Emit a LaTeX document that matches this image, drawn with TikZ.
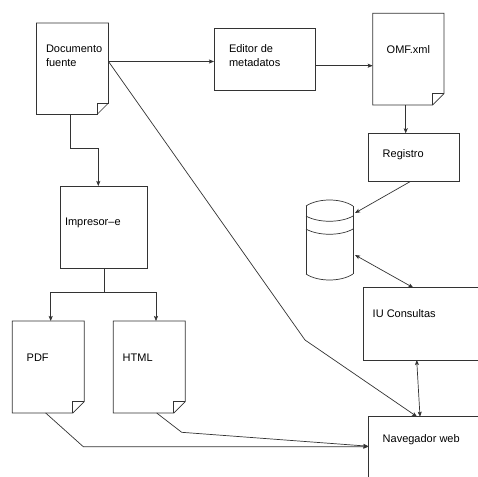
\documentclass[tikz,border=0pt]{standalone}
\usepackage{fontspec}
\setmainfont{Liberation Sans}
\usetikzlibrary{arrows.meta,calc}
\newcommand\docpath[1]{%
  \draw (#1.north west) -- (#1.north east) -- ($(#1.south east)+(0,-11.5)$) -- ($(#1.south east)+(-11.5,0)$) -- (#1.south west) -- cycle;
  \draw ($(#1.south east)+(-11.5,0)$) -- ($(#1.south east)+(-11.5,-11.5)$) -- ($(#1.south east)+(0,-11.5)$);}
\tikzset{
  region/.style={rectangle, draw=none, inner sep=0pt, outer sep=0pt, anchor=north west},
  box/.style={region, draw=black!80},
  txt/.style={anchor=base west, inner sep=0pt, outer sep=0pt, align=left, font=\fontsize{11}{14.5}\selectfont, text=black},
  arr/.style={-{Stealth[length=5pt,width=4pt,inset=1pt]}},
  darr/.style={{Stealth[length=5pt,width=4pt,inset=1pt]}-{Stealth[length=5pt,width=4pt,inset=1pt]}}
}
\begin{document}
\begin{tikzpicture}[x=1pt,y=-1pt,color=black!80,line width=0.7pt]
\useasboundingbox (0,0) rectangle (478,476);
\fill[white] (0,0) rectangle (478,476);
\clip (0,0) rectangle (478,476);
% nodes
\node[region, minimum width=72, minimum height=91.5] (doc) at (36.5,23) {};
\docpath{doc}
\node[box, minimum width=101, minimum height=62] (ed) at (214,28) {};
\node[region, minimum width=71.3, minimum height=91.7] (omf) at (372.7,13.3) {};
\docpath{omf}
\node[box, minimum width=90.7, minimum height=48.4] (reg) at (368.3,133.3) {};
\node[box, minimum width=87.3, minimum height=82.3] (imp) at (60,186) {};
\node[region, minimum width=72, minimum height=92] (pdf) at (12.3,321) {};
\docpath{pdf}
\node[region, minimum width=72, minimum height=92] (html) at (113.3,321) {};
\docpath{html}
\node[box, minimum width=130, minimum height=72.3] (iu) at (363.3,287.7) {};
\node[box, minimum width=130, minimum height=80] (nav) at (368.3,416.7) {};
% database cylinder
\node[region, minimum width=47, minimum height=81] (db) at (306,199) {};
\draw (306,206) .. controls (318,198) and (341,198) .. (353,206);
\draw (306,216) .. controls (318,223) and (341,223) .. (353,216);
\draw (306,229) .. controls (318,236) and (341,236) .. (353,229);
\draw (306,274) .. controls (318,282) and (341,282) .. (353,274);
\draw (306,206) -- (306,274);
\draw (353,206) -- (353,274);
% texts
\node[txt] (tdoc) at (46,67) {Documento\\fuente};
\node[txt] (ted) at (229,66.7) {Editor de\\metadatos};
\node[txt] (tomf) at (386.7,53.3) {OMF.xml};
\node[txt] (treg) at (382.7,157.5) {Registro};
\node[txt] (timp) at (65,225.5) {Impresor--e};
\node[txt] (tpdf) at (26.7,361) {PDF};
\node[txt] (thtml) at (122.7,361) {HTML};
\node[txt] (tiu) at (372.7,317) {IU Consultas};
\node[txt] (tnav) at (382.7,442) {Navegador web};
% connectors
\coordinate (d1) at ($(doc.north east)+(0,38.5)$);
\draw[arr] (d1) -- (d1 -| ed.west);
\coordinate (e1) at ($(ed.north east)+(0,37.7)$);
\draw[arr] (e1) -- (e1 -| omf.west);
\coordinate (o1) at ($(omf.south west)+(33,0)$);
\draw[arr] (o1) -- (o1 |- reg.north);
\draw[arr] ($(reg.south west)+(41.7,0)$) -- ($(db.north east)+(2,14)$);
\draw[darr] ($(db.north east)+(2,56)$) -- ($(iu.north west)+(50,0)$);
\draw[darr] ($(iu.south west)+(53.4,0)$) -- ($(nav.north west)+(51.7,0)$);
\coordinate (b1) at (305,340);
\draw[arr] (d1) -- (b1) -- ($(nav.north west)+(48.7,0)$);
\draw[arr] ($(doc.south west)+(33.5,0)$) -- ++(0,33.5) -| ($(imp.north west)+(38.3,0)$);
\coordinate (j) at ($(imp.south west)+(44,24)$);
\draw ($(imp.south west)+(44,0)$) -- (j);
\draw[arr] (j) -| ($(pdf.north west)+(38.4,0)$);
\draw[arr] (j) -| ($(html.north west)+(42.7,0)$);
\coordinate (b2) at (83.3,446.7);
\coordinate (b3) at (181.7,432.3);
\draw[arr] ($(pdf.south west)+(33.4,0)$) -- (b2) -- ($(nav.north west)+(0,30)$);
\draw[arr] ($(html.south west)+(43.4,0)$) -- (b3) -- ($(nav.north west)+(0,29.5)$);
\end{tikzpicture}
\end{document}
